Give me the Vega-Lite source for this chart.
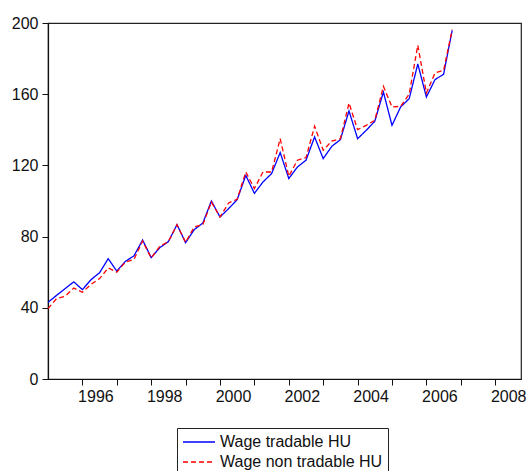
{
  "$schema": "https://vega.github.io/schema/vega-lite/v6.json",
  "width": 473,
  "height": 356,
  "autosize": {"type": "none"},
  "padding": {"left": 48, "top": 23, "right": 8, "bottom": 92},
  "background": "white",
  "config": {
    "font": "Liberation Sans",
    "view": {"stroke": "#222", "strokeWidth": 1.2},
    "axis": {"grid": false, "domainColor": "#111", "domainWidth": 1.2, "tickColor": "#111", "tickWidth": 1, "tickSize": 6, "labelFont": "Liberation Sans", "labelFontSize": 16, "labelColor": "#111", "title": null}
  },
  "data": {
    "values": [
      {"year": 1995.00, "series": "Wage tradable HU", "value": 43.1},
      {"year": 1995.25, "series": "Wage tradable HU", "value": 47.0},
      {"year": 1995.50, "series": "Wage tradable HU", "value": 50.8},
      {"year": 1995.75, "series": "Wage tradable HU", "value": 54.6},
      {"year": 1996.00, "series": "Wage tradable HU", "value": 50.2},
      {"year": 1996.25, "series": "Wage tradable HU", "value": 55.8},
      {"year": 1996.50, "series": "Wage tradable HU", "value": 59.7},
      {"year": 1996.75, "series": "Wage tradable HU", "value": 67.6},
      {"year": 1997.00, "series": "Wage tradable HU", "value": 60.6},
      {"year": 1997.25, "series": "Wage tradable HU", "value": 66.1},
      {"year": 1997.50, "series": "Wage tradable HU", "value": 69.2},
      {"year": 1997.75, "series": "Wage tradable HU", "value": 78.1},
      {"year": 1998.00, "series": "Wage tradable HU", "value": 68.2},
      {"year": 1998.25, "series": "Wage tradable HU", "value": 73.8},
      {"year": 1998.50, "series": "Wage tradable HU", "value": 77.2},
      {"year": 1998.75, "series": "Wage tradable HU", "value": 86.7},
      {"year": 1999.00, "series": "Wage tradable HU", "value": 76.6},
      {"year": 1999.25, "series": "Wage tradable HU", "value": 83.9},
      {"year": 1999.50, "series": "Wage tradable HU", "value": 87.6},
      {"year": 1999.75, "series": "Wage tradable HU", "value": 100.0},
      {"year": 2000.00, "series": "Wage tradable HU", "value": 91.0},
      {"year": 2000.25, "series": "Wage tradable HU", "value": 95.7},
      {"year": 2000.50, "series": "Wage tradable HU", "value": 100.8},
      {"year": 2000.75, "series": "Wage tradable HU", "value": 114.4},
      {"year": 2001.00, "series": "Wage tradable HU", "value": 104.3},
      {"year": 2001.25, "series": "Wage tradable HU", "value": 110.7},
      {"year": 2001.50, "series": "Wage tradable HU", "value": 115.4},
      {"year": 2001.75, "series": "Wage tradable HU", "value": 127.2},
      {"year": 2002.00, "series": "Wage tradable HU", "value": 112.6},
      {"year": 2002.25, "series": "Wage tradable HU", "value": 119.1},
      {"year": 2002.50, "series": "Wage tradable HU", "value": 122.9},
      {"year": 2002.75, "series": "Wage tradable HU", "value": 136.0},
      {"year": 2003.00, "series": "Wage tradable HU", "value": 123.8},
      {"year": 2003.25, "series": "Wage tradable HU", "value": 130.7},
      {"year": 2003.50, "series": "Wage tradable HU", "value": 134.5},
      {"year": 2003.75, "series": "Wage tradable HU", "value": 150.6},
      {"year": 2004.00, "series": "Wage tradable HU", "value": 135.0},
      {"year": 2004.25, "series": "Wage tradable HU", "value": 139.7},
      {"year": 2004.50, "series": "Wage tradable HU", "value": 144.8},
      {"year": 2004.75, "series": "Wage tradable HU", "value": 161.2},
      {"year": 2005.00, "series": "Wage tradable HU", "value": 142.5},
      {"year": 2005.25, "series": "Wage tradable HU", "value": 152.8},
      {"year": 2005.50, "series": "Wage tradable HU", "value": 157.5},
      {"year": 2005.75, "series": "Wage tradable HU", "value": 177.0},
      {"year": 2006.00, "series": "Wage tradable HU", "value": 158.4},
      {"year": 2006.25, "series": "Wage tradable HU", "value": 168.2},
      {"year": 2006.50, "series": "Wage tradable HU", "value": 171.2},
      {"year": 2006.75, "series": "Wage tradable HU", "value": 195.9},
      {"year": 1995.00, "series": "Wage non tradable HU", "value": 39.5},
      {"year": 1995.25, "series": "Wage non tradable HU", "value": 45.2},
      {"year": 1995.50, "series": "Wage non tradable HU", "value": 46.5},
      {"year": 1995.75, "series": "Wage non tradable HU", "value": 51.1},
      {"year": 1996.00, "series": "Wage non tradable HU", "value": 48.7},
      {"year": 1996.25, "series": "Wage non tradable HU", "value": 53.2},
      {"year": 1996.50, "series": "Wage non tradable HU", "value": 56.4},
      {"year": 1996.75, "series": "Wage non tradable HU", "value": 62.4},
      {"year": 1997.00, "series": "Wage non tradable HU", "value": 60.0},
      {"year": 1997.25, "series": "Wage non tradable HU", "value": 65.7},
      {"year": 1997.50, "series": "Wage non tradable HU", "value": 67.2},
      {"year": 1997.75, "series": "Wage non tradable HU", "value": 77.5},
      {"year": 1998.00, "series": "Wage non tradable HU", "value": 68.0},
      {"year": 1998.25, "series": "Wage non tradable HU", "value": 74.5},
      {"year": 1998.50, "series": "Wage non tradable HU", "value": 77.2},
      {"year": 1998.75, "series": "Wage non tradable HU", "value": 86.7},
      {"year": 1999.00, "series": "Wage non tradable HU", "value": 76.8},
      {"year": 1999.25, "series": "Wage non tradable HU", "value": 85.4},
      {"year": 1999.50, "series": "Wage non tradable HU", "value": 86.7},
      {"year": 1999.75, "series": "Wage non tradable HU", "value": 99.4},
      {"year": 2000.00, "series": "Wage non tradable HU", "value": 91.0},
      {"year": 2000.25, "series": "Wage non tradable HU", "value": 98.9},
      {"year": 2000.50, "series": "Wage non tradable HU", "value": 101.0},
      {"year": 2000.75, "series": "Wage non tradable HU", "value": 116.3},
      {"year": 2001.00, "series": "Wage non tradable HU", "value": 107.0},
      {"year": 2001.25, "series": "Wage non tradable HU", "value": 116.3},
      {"year": 2001.50, "series": "Wage non tradable HU", "value": 116.3},
      {"year": 2001.75, "series": "Wage non tradable HU", "value": 135.0},
      {"year": 2002.00, "series": "Wage non tradable HU", "value": 113.9},
      {"year": 2002.25, "series": "Wage non tradable HU", "value": 122.9},
      {"year": 2002.50, "series": "Wage non tradable HU", "value": 124.4},
      {"year": 2002.75, "series": "Wage non tradable HU", "value": 142.0},
      {"year": 2003.00, "series": "Wage non tradable HU", "value": 128.5},
      {"year": 2003.25, "series": "Wage non tradable HU", "value": 133.7},
      {"year": 2003.50, "series": "Wage non tradable HU", "value": 135.0},
      {"year": 2003.75, "series": "Wage non tradable HU", "value": 155.0},
      {"year": 2004.00, "series": "Wage non tradable HU", "value": 140.1},
      {"year": 2004.25, "series": "Wage non tradable HU", "value": 142.5},
      {"year": 2004.50, "series": "Wage non tradable HU", "value": 145.3},
      {"year": 2004.75, "series": "Wage non tradable HU", "value": 164.4},
      {"year": 2005.00, "series": "Wage non tradable HU", "value": 152.8},
      {"year": 2005.25, "series": "Wage non tradable HU", "value": 153.2},
      {"year": 2005.50, "series": "Wage non tradable HU", "value": 160.0},
      {"year": 2005.75, "series": "Wage non tradable HU", "value": 187.5},
      {"year": 2006.00, "series": "Wage non tradable HU", "value": 160.7},
      {"year": 2006.25, "series": "Wage non tradable HU", "value": 171.9},
      {"year": 2006.50, "series": "Wage non tradable HU", "value": 173.4},
      {"year": 2006.75, "series": "Wage non tradable HU", "value": 196.3}
    ]
  },
  "mark": {"type": "line", "strokeWidth": 1.3},
  "encoding": {
    "x": {
      "field": "year", "type": "quantitative",
      "scale": {"domain": [1995, 2008.75], "nice": false, "zero": false},
      "axis": {"values": [1996, 1997, 1998, 1999, 2000, 2001, 2002, 2003, 2004, 2005, 2006, 2007, 2008], "format": "d", "labelExpr": "datum.value % 2 == 0 ? datum.label : ''", "labelOffset": 13, "labelPadding": 3, "labelFlush": false, "labelOverlap": false}
    },
    "y": {
      "field": "value", "type": "quantitative",
      "scale": {"domain": [0, 200], "nice": false},
      "axis": {"values": [0, 40, 80, 120, 160, 200], "labelPadding": 4}
    },
    "color": {
      "field": "series", "type": "nominal",
      "scale": {"domain": ["Wage tradable HU", "Wage non tradable HU"], "range": ["#0000ff", "#ff0000"]},
      "legend": {"title": null, "orient": "none", "legendX": 129, "legendY": 405, "direction": "vertical", "symbolType": "M-1,0H3", "symbolSize": 256, "symbolStrokeWidth": 1.3, "labelFontSize": 16, "labelFont": "Liberation Sans", "labelColor": "#111", "labelLimit": 400, "strokeColor": "#222", "fillColor": "white", "padding": 5, "rowPadding": 3, "labelOffset": 20}
    },
    "strokeDash": {
      "field": "series", "type": "nominal",
      "scale": {"domain": ["Wage tradable HU", "Wage non tradable HU"], "range": [[1, 0], [5, 3]]},
      "legend": null
    }
  }
}
